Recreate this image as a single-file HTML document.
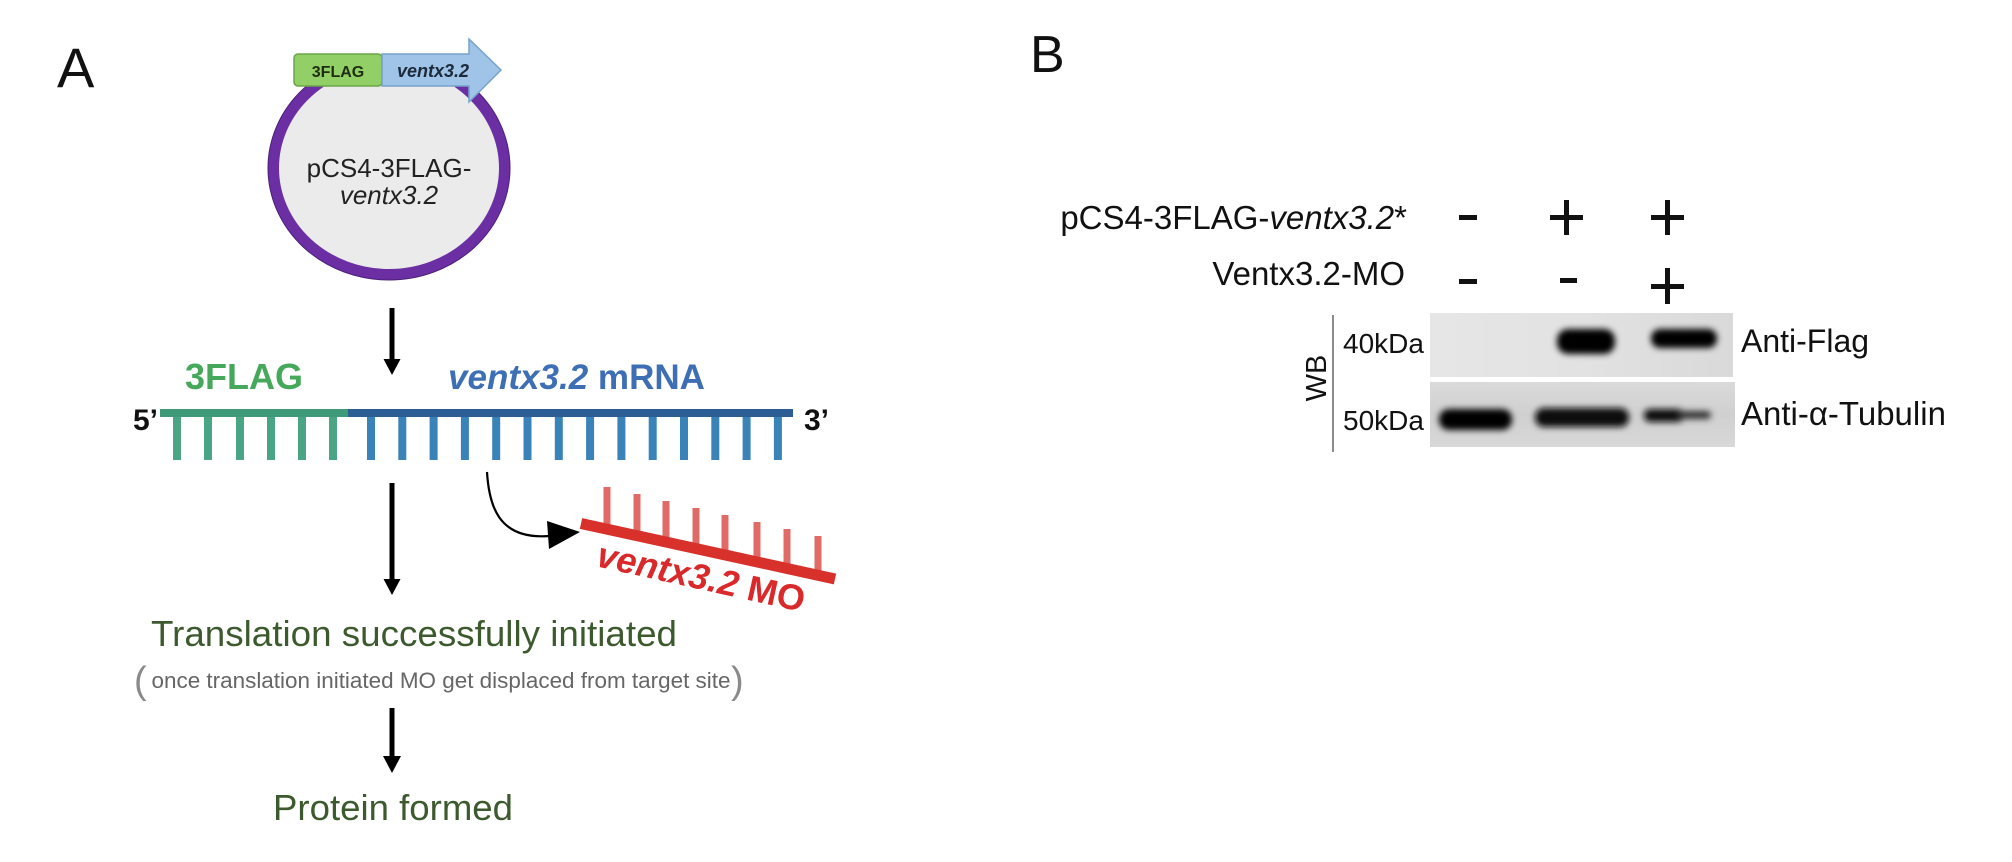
<!DOCTYPE html>
<html>
<head>
<meta charset="utf-8">
<style>
  html, body { margin: 0; padding: 0; background: #ffffff; }
  svg { display: block; }
  text { font-family: "Liberation Sans", Arial, sans-serif; }
</style>
</head>
<body>
<svg width="2012" height="862" viewBox="0 0 2012 862" xmlns="http://www.w3.org/2000/svg">
  <defs>
    <filter id="blur3" x="-30%" y="-80%" width="160%" height="260%">
      <feGaussianBlur stdDeviation="3.2"/>
    </filter>
    <clipPath id="ringclip">
      <rect x="0" y="55" width="800" height="400"/>
    </clipPath>
    <linearGradient id="blot1g" x1="0" y1="0" x2="1" y2="0">
      <stop offset="0" stop-color="#e6e6e6"/>
      <stop offset="0.5" stop-color="#e2e2e2"/>
      <stop offset="1" stop-color="#d9d9d9"/>
    </linearGradient>
    <linearGradient id="blot2g" x1="0" y1="0" x2="0" y2="1">
      <stop offset="0" stop-color="#dadada"/>
      <stop offset="0.5" stop-color="#d0d0d0"/>
      <stop offset="1" stop-color="#d8d8d8"/>
    </linearGradient>
  </defs>

  <rect x="0" y="0" width="2012" height="862" fill="#ffffff"/>

  <!-- ============ PANEL A ============ -->
  <text x="57" y="87" font-size="56" fill="#111">A</text>

  <!-- plasmid -->
  <g clip-path="url(#ringclip)">
    <ellipse cx="389" cy="168" rx="115.5" ry="106.5" fill="#ebebeb" stroke="#6b2fa3" stroke-width="11"/>
    <ellipse cx="389" cy="168" rx="121" ry="112" fill="none" stroke="#4a1f78" stroke-width="1"/>
  </g>
  <text x="389" y="177" font-size="26" fill="#222" text-anchor="middle">pCS4-3FLAG-</text>
  <text x="389" y="204" font-size="26" fill="#222" text-anchor="middle" font-style="italic">ventx3.2</text>

  <!-- 3FLAG box -->
  <rect x="294" y="54" width="88" height="32" rx="4" fill="#92cf66" stroke="#6aa548" stroke-width="1.5"/>
  <text x="338" y="77" font-size="16" font-weight="bold" fill="#1e2d12" text-anchor="middle">3FLAG</text>
  <!-- ventx3.2 arrow -->
  <polygon points="382,54 469,54 469,39 501,70 469,102 469,86 382,86" fill="#9fc4e8" stroke="#76a2cc" stroke-width="1.5"/>
  <text x="397" y="77" font-size="18" font-weight="bold" font-style="italic" fill="#1c2a3a">ventx3.2</text>

  <!-- arrow 1 -->
  <rect x="389.5" y="308" width="5" height="54" fill="#000"/>
  <polygon points="383.5,359 400.5,359 392,375" fill="#000"/>

  <!-- labels above mRNA -->
  <text x="185" y="389" font-size="36" font-weight="bold" fill="#46a85a" textLength="118" lengthAdjust="spacingAndGlyphs">3FLAG</text>
  <text x="448" y="389" font-size="35" font-weight="bold" fill="#3e6fb5" textLength="257" lengthAdjust="spacingAndGlyphs"><tspan font-style="italic">ventx3.2</tspan> mRNA</text>

  <!-- mRNA -->
  <text x="158" y="430" font-size="30" font-weight="bold" fill="#111" text-anchor="end">5’</text>
  <text x="804" y="430" font-size="30" font-weight="bold" fill="#111">3’</text>
  <rect x="160" y="409" width="188" height="8" fill="#3e9a78"/>
  <rect x="348" y="409" width="445" height="8" fill="#2d5e93"/>
  <g fill="#4aa585">
    <rect x="173" y="417" width="8" height="43"/>
    <rect x="204" y="417" width="8" height="43"/>
    <rect x="236" y="417" width="8" height="43"/>
    <rect x="267" y="417" width="8" height="43"/>
    <rect x="298" y="417" width="8" height="43"/>
    <rect x="329" y="417" width="8" height="43"/>
  </g>
  <g fill="#3a83b8">
    <rect x="367" y="417" width="8" height="43"/>
    <rect x="398.3" y="417" width="8" height="43"/>
    <rect x="429.6" y="417" width="8" height="43"/>
    <rect x="460.9" y="417" width="8" height="43"/>
    <rect x="492.2" y="417" width="8" height="43"/>
    <rect x="523.5" y="417" width="8" height="43"/>
    <rect x="554.8" y="417" width="8" height="43"/>
    <rect x="586.1" y="417" width="8" height="43"/>
    <rect x="617.4" y="417" width="8" height="43"/>
    <rect x="648.7" y="417" width="8" height="43"/>
    <rect x="680" y="417" width="8" height="43"/>
    <rect x="711.3" y="417" width="8" height="43"/>
    <rect x="742.6" y="417" width="8" height="43"/>
    <rect x="773.9" y="417" width="8" height="43"/>
  </g>

  <!-- curved arrow to MO -->
  <path d="M 487 472 C 489 505, 498 540, 549 536" fill="none" stroke="#000" stroke-width="2.2"/>
  <polygon points="547,521 580,532 549,549" fill="#000"/>

  <!-- MO strand -->
  <g fill="#e06a66">
    <rect x="603.5" y="487" width="7" height="42.2"/>
    <rect x="633.5" y="494" width="7" height="41.7"/>
    <rect x="662.5" y="501" width="7" height="41.1"/>
    <rect x="692.5" y="508" width="7" height="40.7"/>
    <rect x="721.5" y="515" width="7" height="40"/>
    <rect x="753.5" y="522" width="7" height="40"/>
    <rect x="783.5" y="529" width="7" height="39.6"/>
    <rect x="814.5" y="536" width="7" height="39.3"/>
  </g>
  <line x1="581" y1="523.5" x2="835" y2="579" stroke="#d8312c" stroke-width="11"/>
  <text transform="translate(595,566) rotate(12.5)" font-size="36" font-weight="bold" fill="#d9292b" textLength="212" lengthAdjust="spacingAndGlyphs"><tspan font-style="italic">ventx3.2</tspan> MO</text>

  <!-- arrow 2 -->
  <rect x="389.5" y="483" width="5" height="98" fill="#000"/>
  <polygon points="383.5,579 400.5,579 392,595" fill="#000"/>

  <!-- translation text -->
  <text x="414" y="646" font-size="36.5" fill="#3d5a2e" text-anchor="middle" textLength="526" lengthAdjust="spacingAndGlyphs">Translation successfully initiated</text>
  <text x="134" y="693" font-size="38" fill="#8a8a8a">(</text>
  <text x="441" y="688" font-size="22.5" fill="#666" text-anchor="middle" textLength="579" lengthAdjust="spacingAndGlyphs">once translation initiated MO get displaced from target site</text>
  <text x="731" y="693" font-size="38" fill="#8a8a8a">)</text>

  <!-- arrow 3 -->
  <rect x="389.5" y="708" width="5" height="51" fill="#000"/>
  <polygon points="383,756 401,756 392,773" fill="#000"/>

  <text x="393" y="820" font-size="36.5" fill="#3d5a2e" text-anchor="middle" textLength="240" lengthAdjust="spacingAndGlyphs">Protein formed</text>

  <!-- ============ PANEL B ============ -->
  <text x="1030" y="72" font-size="52" fill="#111">B</text>

  <text x="1407" y="229" font-size="33" fill="#111" text-anchor="end">pCS4-3FLAG-<tspan font-style="italic">ventx3.2</tspan>*</text>
  <text x="1405" y="285" font-size="33" fill="#111" text-anchor="end">Ventx3.2-MO</text>

  <!-- signs -->
  <g fill="#111">
    <rect x="1459" y="215" width="18" height="5"/>
    <rect x="1550" y="215" width="33" height="5"/>
    <rect x="1564" y="200" width="5" height="35"/>
    <rect x="1651" y="215" width="33" height="5"/>
    <rect x="1665" y="200" width="5" height="35"/>
    <rect x="1459" y="279" width="18" height="5"/>
    <rect x="1560" y="278" width="17" height="5"/>
    <rect x="1651" y="284" width="33" height="5"/>
    <rect x="1665" y="268" width="5" height="36"/>
  </g>

  <!-- WB -->
  <line x1="1333" y1="315" x2="1333" y2="452" stroke="#666" stroke-width="1.5"/>
  <text transform="translate(1326,378) rotate(-90)" font-size="29" fill="#111" text-anchor="middle">WB</text>
  <text x="1343" y="353" font-size="28" fill="#111">40kDa</text>
  <text x="1343" y="430" font-size="28" fill="#111">50kDa</text>

  <!-- blot 1 -->
  <rect x="1430" y="313" width="303" height="64" fill="url(#blot1g)"/>
  <g filter="url(#blur3)" fill="#050505">
    <rect x="1557" y="329" width="58" height="25" rx="11"/>
    <rect x="1651" y="329" width="66" height="19" rx="9"/>
  </g>
  <!-- blot 2 -->
  <rect x="1430" y="382" width="305" height="65" fill="url(#blot2g)"/>
  <g filter="url(#blur3)">
    <rect x="1439" y="409" width="73" height="21" rx="10" fill="#050505"/>
    <rect x="1535" y="408" width="94" height="19" rx="9" fill="#080808"/>
    <rect x="1644" y="409" width="40" height="13" rx="6" fill="#111"/>
    <rect x="1678" y="411" width="33" height="8" rx="4" fill="#333"/>
  </g>

  <text x="1741" y="352" font-size="32" fill="#111">Anti-Flag</text>
  <text x="1741" y="425" font-size="33" fill="#111">Anti-α-Tubulin</text>
</svg>
</body>
</html>
